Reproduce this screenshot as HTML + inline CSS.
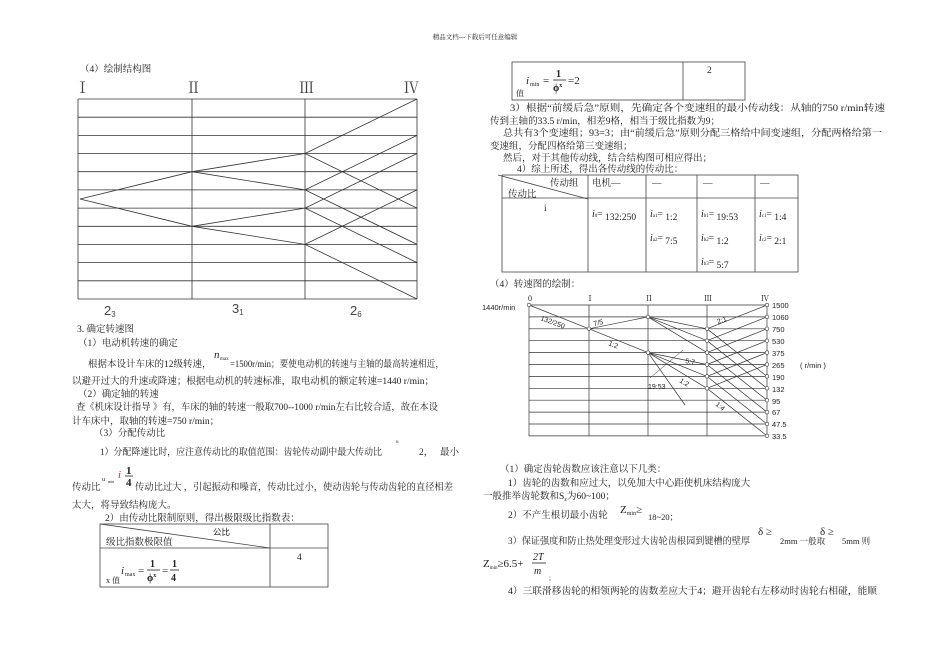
<!DOCTYPE html>
<html><head><meta charset="utf-8"><style>
html,body{margin:0;padding:0;background:#fff;}
svg{display:block;}
text{font-family:"Liberation Serif","Noto Serif CJK SC",serif;font-size:9.5px;fill:#222;}
.s{font-family:"Liberation Sans","Noto Sans CJK SC",sans-serif;}
</style></head><body>
<svg width="950" height="672" viewBox="0 0 950 672" xmlns="http://www.w3.org/2000/svg">
<text x="475" y="39" text-anchor="middle" style="font-size:6.5px">精品文档---下载后可任意编辑</text>

<!-- Structure diagram -->
<text x="80" y="72">（4）绘制结构图</text>
<text x="75" y="93" style="font-size:15px;fill:#444">Ⅰ</text>
<text x="186" y="93" style="font-size:15px;fill:#444">Ⅱ</text>
<text x="299" y="93" style="font-size:15px;fill:#444">Ⅲ</text>
<text x="404" y="93" style="font-size:15px;fill:#444">Ⅳ</text>
<g stroke="#333" stroke-width="0.8" fill="none">
<line x1="78" y1="99" x2="417" y2="99"/><line x1="78" y1="117.2" x2="417" y2="117.2"/>
<line x1="78" y1="135.4" x2="417" y2="135.4"/><line x1="78" y1="153.5" x2="417" y2="153.5"/>
<line x1="78" y1="171.7" x2="417" y2="171.7"/><line x1="78" y1="189.9" x2="417" y2="189.9"/>
<line x1="78" y1="208.1" x2="417" y2="208.1"/><line x1="78" y1="226.3" x2="417" y2="226.3"/>
<line x1="78" y1="244.4" x2="417" y2="244.4"/><line x1="78" y1="262.6" x2="417" y2="262.6"/>
<line x1="78" y1="280.8" x2="417" y2="280.8"/><line x1="78" y1="299" x2="417" y2="299"/>
<line x1="78" y1="99" x2="78" y2="299"/><line x1="192" y1="99" x2="192" y2="299"/>
<line x1="305" y1="99" x2="305" y2="299"/><line x1="417" y1="99" x2="417" y2="299"/>
<polyline points="192,171.7 80,199 192,226.3"/>
<polyline points="305,153.5 192,171.7 305,189.9"/>
<polyline points="305,208.1 192,226.3 305,244.4"/>
<polyline points="417,99 305,153.5 417,208.1"/>
<polyline points="417,135.4 305,189.9 417,244.4"/>
<polyline points="417,153.5 305,208.1 417,262.6"/>
<polyline points="417,189.9 305,244.4 417,299"/>
</g>
<text class="s" x="104" y="315" style="font-size:13px;fill:#444">2<tspan font-size="8" dy="2">3</tspan></text>
<text class="s" x="232" y="313" style="font-size:13px;fill:#444">3<tspan font-size="8" dy="2">1</tspan></text>
<text class="s" x="350" y="315" style="font-size:13px;fill:#444">2<tspan font-size="8" dy="2">6</tspan></text>

<!-- Left text -->
<text x="77" y="332">3. 确定转速图</text>
<text x="78" y="346">（1）电动机转速的确定</text>
<text x="214" y="358" style="font-size:11px;font-style:italic">n</text><text x="220" y="360" style="font-size:5px">max</text>
<text x="88" y="367">根据本设计车床的12级转速，</text>
<text x="230" y="367" textLength="214" lengthAdjust="spacingAndGlyphs">=1500r/min；要使电动机的转速与主轴的最高转速相近，</text>
<text x="72" y="384" textLength="362" lengthAdjust="spacingAndGlyphs">以避开过大的升速或降速；根据电动机的转速标准，取电动机的额定转速=1440 r/min；</text>
<text x="78" y="397">（2）确定轴的转速</text>
<text x="76" y="410" textLength="362" lengthAdjust="spacingAndGlyphs">查《机床设计指导 》有，车床的轴的转速一般取700--1000 r/min左右比较合适，故在本设</text>
<text x="72" y="424">计车床中，取轴的转速=750 r/min；</text>
<text x="94" y="436">（3）分配传动比</text>
<text x="396" y="443" style="font-size:5px">u</text>
<text x="100" y="455" textLength="282" lengthAdjust="spacingAndGlyphs">1）分配降速比时，应注意传动比的取值范围：齿轮传动副中最大传动比</text>
<text x="419" y="455">2，</text><text x="440" y="455">最小</text>
<text x="102" y="481" style="font-size:6px">u</text><text x="108" y="483" style="font-size:4px">min</text>
<text x="118" y="478" style="font-size:11px;fill:#c33;font-style:italic">i</text>
<text x="126" y="474" style="font-size:11px;font-weight:bold">1</text><line x1="125" y1="476" x2="133" y2="476" stroke="#222" stroke-width="0.8"/>
<text x="126" y="486" style="font-size:11px;font-weight:bold">4</text>
<text x="72" y="490">传动比</text>
<text x="135" y="490" textLength="318" lengthAdjust="spacingAndGlyphs">传动比过大 ，引起振动和噪音，传动比过小，使动齿轮与传动齿轮的直径相差</text>
<text x="72" y="508">太大，将导致结构庞大。</text>
<text x="105" y="521">2）由传动比限制原则，得出极限级比指数表：</text>
<g stroke="#444" stroke-width="0.8" fill="none">
<rect x="100" y="524" width="228" height="63"/>
<line x1="270" y1="524" x2="270" y2="587"/>
<line x1="100" y1="548" x2="328" y2="548"/>
<line x1="100" y1="524" x2="270" y2="548"/>
</g>
<text x="213" y="535" class="s" style="font-size:8.5px">公比</text>
<text x="106" y="545">级比指数极限值</text>
<text x="297" y="560">4</text>
<text x="106" y="583" style="font-size:8px">x 值</text>
<text x="121" y="574" style="font-size:11px;font-style:italic">i</text><text x="125" y="576" style="font-size:6px">max</text>
<text x="138" y="574" style="font-size:11px">=</text>
<text x="150" y="567" style="font-size:10px;font-weight:bold">1</text><line x1="147" y1="570" x2="160" y2="570" stroke="#222" stroke-width="0.8"/>
<text x="147" y="581" style="font-size:10px;font-weight:bold">ϕ<tspan font-size="6" dy="-4">x</tspan></text>
<text x="162" y="574" style="font-size:11px">=</text>
<text x="172" y="567" style="font-size:10px;font-weight:bold">1</text><line x1="170" y1="570" x2="179" y2="570" stroke="#222" stroke-width="0.8"/>
<text x="171" y="581" style="font-size:10px;font-weight:bold">4</text>

<!-- Right top table -->
<g stroke="#444" stroke-width="0.8" fill="none">
<rect x="512" y="62" width="233" height="38"/>
<line x1="683" y1="62" x2="683" y2="100"/>
</g>
<text x="707" y="73">2</text>
<text x="516" y="96" style="font-size:8px">值</text>
<text x="526" y="84" style="font-size:11px;font-style:italic">i</text><text x="530" y="86" style="font-size:6px">min</text>
<text x="543" y="84" style="font-size:11px">=</text>
<text x="556" y="77" style="font-size:10px;font-weight:bold">1</text><line x1="553" y1="80" x2="566" y2="80" stroke="#222" stroke-width="0.8"/>
<text x="553" y="91" style="font-size:10px;font-weight:bold">ϕ<tspan font-size="6" dy="-4">x</tspan></text>
<text x="568" y="84" style="font-size:11px">=2</text>

<text x="510" y="111" textLength="375" lengthAdjust="spacingAndGlyphs">3）根据“前缓后急”原则，先确定各个变速组的最小传动线：从轴的750 r/min转速</text>
<text x="490" y="124" textLength="230" lengthAdjust="spacingAndGlyphs">传到主轴的33.5 r/min，相差9格，相当于级比指数为9；</text>
<text x="503" y="136" textLength="379" lengthAdjust="spacingAndGlyphs">总共有3个变速组；93=3；由“前缓后急”原则分配三格给中间变速组，分配两格给第一</text>
<text x="490" y="149">变速组，分配四格给第三变速组；</text>
<text x="503" y="161">然后，对于其他传动线，结合结构图可相应得出；</text>
<text x="517" y="172">4）综上所述，得出各传动线的传动比：</text>
<g stroke="#444" stroke-width="0.8" fill="none">
<rect x="502" y="175" width="296" height="97"/>
<line x1="502" y1="198" x2="798" y2="198"/>
<line x1="588" y1="175" x2="588" y2="272"/>
<line x1="646" y1="175" x2="646" y2="272"/>
<line x1="697" y1="175" x2="697" y2="272"/>
<line x1="755" y1="175" x2="755" y2="272"/>
<line x1="498" y1="175" x2="588" y2="199"/>
</g>
<text x="550" y="186">传动组</text>
<text x="508" y="197">传动比</text>
<text x="592" y="186">电机—</text>
<text x="652" y="186" fill="#999">—</text><text x="703" y="186" fill="#999">—</text><text x="760" y="186" fill="#999">—</text>
<text x="544" y="211">i</text>
<g style="font-size:8px">
<text x="592" y="217"><tspan font-style="italic" font-size="10">i</tspan><tspan font-size="5">0</tspan>= <tspan dy="3">132:250</tspan></text>
<text x="650" y="217"><tspan font-style="italic" font-size="10">i</tspan><tspan font-size="5">a1</tspan>= <tspan dy="3">1:2</tspan></text>
<text x="650" y="241"><tspan font-style="italic" font-size="10">i</tspan><tspan font-size="5">a2</tspan>= <tspan dy="3">7:5</tspan></text>
<text x="701" y="217"><tspan font-style="italic" font-size="10">i</tspan><tspan font-size="5">b1</tspan>= <tspan dy="3">19:53</tspan></text>
<text x="701" y="241"><tspan font-style="italic" font-size="10">i</tspan><tspan font-size="5">b2</tspan>= <tspan dy="3">1:2</tspan></text>
<text x="701" y="265"><tspan font-style="italic" font-size="10">i</tspan><tspan font-size="5">b3</tspan>= <tspan dy="3">5:7</tspan></text>
<text x="759" y="217"><tspan font-style="italic" font-size="10">i</tspan><tspan font-size="5">c1</tspan>= <tspan dy="3">1:4</tspan></text>
<text x="759" y="241"><tspan font-style="italic" font-size="10">i</tspan><tspan font-size="5">c2</tspan>= <tspan dy="3">2:1</tspan></text>
</g>

<!-- Speed chart -->
<text x="490" y="287">（4）转速图的绘制：</text>
<text x="528" y="301" style="font-size:8px">0</text>
<text x="586" y="301" style="font-size:8px">Ⅰ</text>
<text x="645" y="301" style="font-size:8px">Ⅱ</text>
<text x="704" y="301" style="font-size:8px">Ⅲ</text>
<text x="761" y="301" style="font-size:8px">Ⅳ</text>
<text class="s" x="482" y="310" style="font-size:7.5px">1440r/min</text>
<g stroke="#333" stroke-width="0.7" fill="none">
<line x1="529" y1="305" x2="767" y2="305"/><line x1="529" y1="316.9" x2="767" y2="316.9"/>
<line x1="529" y1="328.8" x2="767" y2="328.8"/><line x1="529" y1="340.7" x2="767" y2="340.7"/>
<line x1="529" y1="352.6" x2="767" y2="352.6"/><line x1="529" y1="364.5" x2="767" y2="364.5"/>
<line x1="529" y1="376.4" x2="767" y2="376.4"/><line x1="529" y1="388.3" x2="767" y2="388.3"/>
<line x1="529" y1="400.2" x2="767" y2="400.2"/><line x1="529" y1="412.1" x2="767" y2="412.1"/>
<line x1="529" y1="424" x2="767" y2="424"/><line x1="529" y1="435.9" x2="767" y2="435.9"/>
<line x1="529" y1="305" x2="529" y2="436"/><line x1="589" y1="305" x2="589" y2="436"/>
<line x1="648" y1="305" x2="648" y2="436"/><line x1="707" y1="305" x2="707" y2="436"/>
<line x1="767" y1="305" x2="767" y2="436"/>
<polyline points="529,305 589,328.8 648,352.6"/>
<line x1="589" y1="328.8" x2="648" y2="316.9"/>
<line x1="648" y1="316.9" x2="707" y2="328.8"/><line x1="648" y1="316.9" x2="707" y2="340.7"/><line x1="648" y1="316.9" x2="707" y2="352.6"/>
<line x1="648" y1="352.6" x2="707" y2="364.5"/><line x1="648" y1="352.6" x2="707" y2="376.4"/><line x1="648" y1="352.6" x2="707" y2="388.3"/>
<line x1="707" y1="328.8" x2="767" y2="305"/><line x1="707" y1="328.8" x2="767" y2="376.4"/>
<line x1="707" y1="340.7" x2="767" y2="316.9"/><line x1="707" y1="340.7" x2="767" y2="388.3"/>
<line x1="707" y1="352.6" x2="767" y2="328.8"/><line x1="707" y1="352.6" x2="767" y2="400.2"/>
<line x1="707" y1="364.5" x2="767" y2="340.7"/><line x1="707" y1="364.5" x2="767" y2="412.1"/>
<line x1="707" y1="376.4" x2="767" y2="352.6"/><line x1="707" y1="376.4" x2="767" y2="424"/>
<line x1="707" y1="388.3" x2="767" y2="364.5"/><line x1="707" y1="388.3" x2="767" y2="435.9"/>
<line x1="648" y1="352.6" x2="685" y2="405"/>
<line x1="683" y1="350" x2="650" y2="378" stroke-width="0.5"/>
</g>
<g fill="#fff" stroke="#333" stroke-width="0.6">
<circle cx="529" cy="305" r="1.8"/><circle cx="589" cy="328.8" r="1.8"/>
<circle cx="648" cy="316.9" r="1.8"/><circle cx="648" cy="352.6" r="1.8"/>
<circle cx="707" cy="328.8" r="1.8"/><circle cx="707" cy="340.7" r="1.8"/><circle cx="707" cy="352.6" r="1.8"/>
<circle cx="707" cy="364.5" r="1.8"/><circle cx="707" cy="376.4" r="1.8"/><circle cx="707" cy="388.3" r="1.8"/>
<circle cx="767" cy="305" r="1.8"/><circle cx="767" cy="316.9" r="1.8"/><circle cx="767" cy="328.8" r="1.8"/>
<circle cx="767" cy="340.7" r="1.8"/><circle cx="767" cy="352.6" r="1.8"/><circle cx="767" cy="364.5" r="1.8"/>
<circle cx="767" cy="376.4" r="1.8"/><circle cx="767" cy="388.3" r="1.8"/><circle cx="767" cy="400.2" r="1.8"/>
<circle cx="767" cy="412.1" r="1.8"/><circle cx="767" cy="424" r="1.8"/><circle cx="767" cy="435.9" r="1.8"/>
</g>
<text class="s" x="540" y="320" transform="rotate(20 540 320)" style="font-size:7px">132/250</text>
<text class="s" x="594" y="326" transform="rotate(-12 594 326)" style="font-size:7px">7/5</text>
<text class="s" x="608" y="345" transform="rotate(22 608 345)" style="font-size:7px">1:2</text>
<text class="s" x="718" y="324" transform="rotate(-20 718 324)" style="font-size:7px">2:1</text>
<text class="s" x="685" y="363" transform="rotate(10 685 363)" style="font-size:7px">5:7</text>
<text class="s" x="679" y="382" transform="rotate(30 679 382)" style="font-size:7px">1:2</text>
<text class="s" x="648" y="389" style="font-size:7px">19:53</text>
<text class="s" x="715" y="405" transform="rotate(40 715 405)" style="font-size:7px">1:4</text>
<text class="s" x="772" y="308" style="font-size:7.5px">1500</text>
<text class="s" x="772" y="320" style="font-size:7.5px">1060</text>
<text class="s" x="772" y="332" style="font-size:7.5px">750</text>
<text class="s" x="772" y="344" style="font-size:7.5px">530</text>
<text class="s" x="772" y="356" style="font-size:7.5px">375</text>
<text class="s" x="772" y="368" style="font-size:7.5px">265</text>
<text class="s" x="772" y="380" style="font-size:7.5px">190</text>
<text class="s" x="772" y="392" style="font-size:7.5px">132</text>
<text class="s" x="772" y="404" style="font-size:7.5px">95</text>
<text class="s" x="772" y="415" style="font-size:7.5px">67</text>
<text class="s" x="772" y="427" style="font-size:7.5px">47.5</text>
<text class="s" x="772" y="439" style="font-size:7.5px">33.5</text>
<text class="s" x="800" y="368" style="font-size:7.5px">( r/min )</text>

<!-- Right bottom text -->
<text x="500" y="472">（1）确定齿轮齿数应该注意以下几类：</text>
<text x="508" y="486">1）齿轮的齿数和应过大，以免加大中心距使机床结构庞大</text>
<text x="483" y="499">一般推举齿轮数和S<tspan font-size="6" dy="2">z</tspan><tspan dy="-2">为60~100；</tspan></text>
<text x="508" y="518">2）不产生根切最小齿轮</text>
<text x="620" y="513" style="font-size:11px">Z<tspan font-size="6" dy="2">min</tspan><tspan dy="-2">≥</tspan></text>
<text x="648" y="520" style="font-size:8.5px">18~20；</text>
<text x="508" y="544" textLength="242" lengthAdjust="spacingAndGlyphs">3）保证强度和防止热处理变形过大齿轮齿根园到键槽的壁厚</text>
<text x="758" y="535" style="font-size:11px">δ ≥</text>
<text x="780" y="544" style="font-size:8.5px">2mm 一般取</text>
<text x="820" y="535" style="font-size:11px">δ ≥</text>
<text x="842" y="544" style="font-size:8.5px">5mm 则</text>
<text x="483" y="567" style="font-size:11px">Z<tspan font-size="5" dy="2">min</tspan><tspan dy="-2">≥6.5+</tspan></text>
<text x="533" y="560" style="font-size:10px;font-style:italic">2T</text>
<line x1="532" y1="563" x2="546" y2="563" stroke="#222" stroke-width="0.8"/>
<text x="534" y="574" style="font-size:10px;font-style:italic">m</text>
<text x="549" y="580" style="font-size:7px">;</text>
<text x="508" y="594" textLength="369" lengthAdjust="spacingAndGlyphs">4）三联滑移齿轮的相领两轮的齿数差应大于4；避开齿轮右左移动时齿轮右相碰，能顺</text>
</svg>
</body></html>
